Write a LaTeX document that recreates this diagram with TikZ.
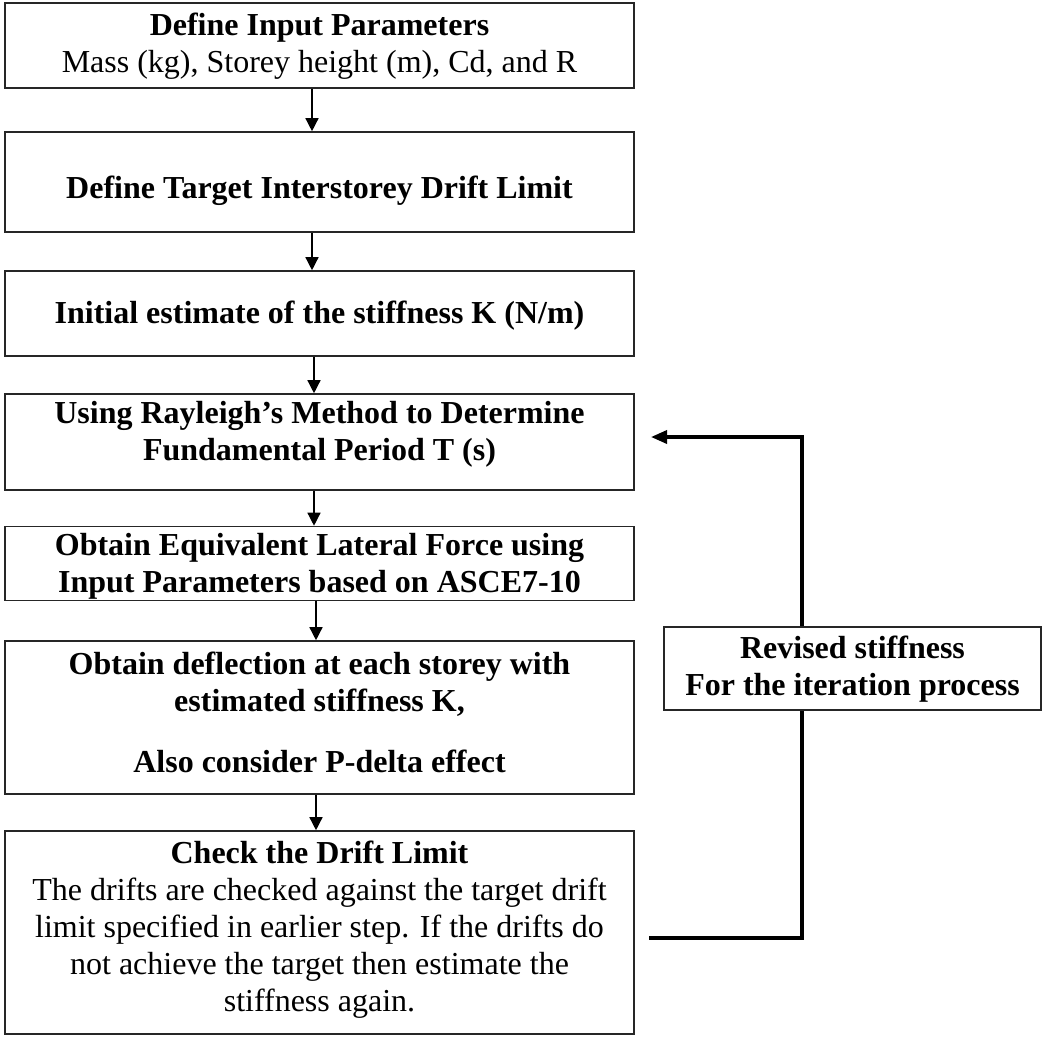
\documentclass[tikz,border=0pt]{standalone}
\usepackage{fontspec}
\setmainfont{Liberation Serif}
\usetikzlibrary{arrows.meta}
\tikzset{
  box/.style={draw=black!85, line width=0.8pt, fill=white, inner sep=0pt, minimum width=314.5pt},
  txt/.style={align=center, inner sep=0pt, font=\fontsize{16}{18.5}\selectfont},
  bt/.style={txt, font=\fontsize{16}{18.5}\selectfont\bfseries},
  arr/.style={line width=0.7pt, -{Triangle[width=6.5pt,length=6.5pt]}},
  fb/.style={line width=1.7pt},
  fbarr/.style={line width=1.7pt, -{Triangle[width=6.5pt,length=8pt]}}
}
\begin{document}
\begin{tikzpicture}[x=0.5pt,y=-0.5pt]
\useasboundingbox[fill=white] (0,0) rectangle (1044,1039);
% boxes
\node[box, minimum height=42.5pt] (b1) at (319.5,45.5) {};
\node[box, minimum height=50pt] (b2) at (319.5,182) {};
\node[box, minimum height=42.5pt] (b3) at (319.5,313.5) {};
\node[box, minimum height=48pt] (b4) at (319.5,442) {};
\node[box, minimum height=37pt] (b5) at (319.5,563.5) {};
\node[box, minimum height=76.5pt] (b6) at (319.5,717.5) {};
\node[box, minimum height=101.5pt] (b7) at (319.5,932.5) {};
% texts
\node[txt] (t1) at (319.5,46) {\textbf{Define Input Parameters}\\Mass (kg), Storey height (m), Cd, and R};
\node[bt] (t2) at (319.5,191) {Define Target Interstorey Drift Limit};
\node[bt] (t3) at (319.5,316) {Initial estimate of the stiffness K (N/m)};
\node[bt] (t4) at (319.5,434) {Using Rayleigh’s Method to Determine\\Fundamental Period T (s)};
\node[bt] (t5) at (319.5,566) {Obtain Equivalent Lateral Force using\\Input Parameters based on ASCE7-10};
\node[bt] (t6) at (319.5,712) {Obtain deflection at each storey with\\estimated stiffness K,\\[12pt]Also consider P-delta effect};
\node[txt] (t7) at (319.5,930) {\textbf{Check the Drift Limit}\\The drifts are checked against the target drift\\limit specified in earlier step. If the drifts do\\not achieve the target then estimate the\\stiffness again.};
% down arrows
\draw[arr] ([xshift=-3.75pt]b1.south) -- ([xshift=-3.75pt]b2.north);
\draw[arr] ([xshift=-3.75pt]b2.south) -- ([xshift=-3.75pt]b3.north);
\draw[arr] ([xshift=-2.75pt]b3.south) -- ([xshift=-2.75pt]b4.north);
\draw[arr] ([xshift=-2.75pt]b4.south) -- ([xshift=-2.75pt]b5.north);
\draw[arr] ([xshift=-1.75pt]b5.south) -- ([xshift=-1.75pt]b6.north);
\draw[arr] ([xshift=-1.75pt]b6.south) -- ([xshift=-1.75pt]b7.north);
% feedback loop
\coordinate (fs) at (649,938);
\coordinate (fe) at (651,437);
\coordinate (fx) at (802,668.5);
\draw[fb] (fs) -| (fx);
\draw[fbarr] (fx) |- (fe);
\node[box, minimum width=188.5pt, minimum height=41.5pt] (rb) at (852.5,668.5) {};
\node[bt] (trb) at (852.5,669) {Revised stiffness\\For the iteration process};
\end{tikzpicture}
\end{document}
